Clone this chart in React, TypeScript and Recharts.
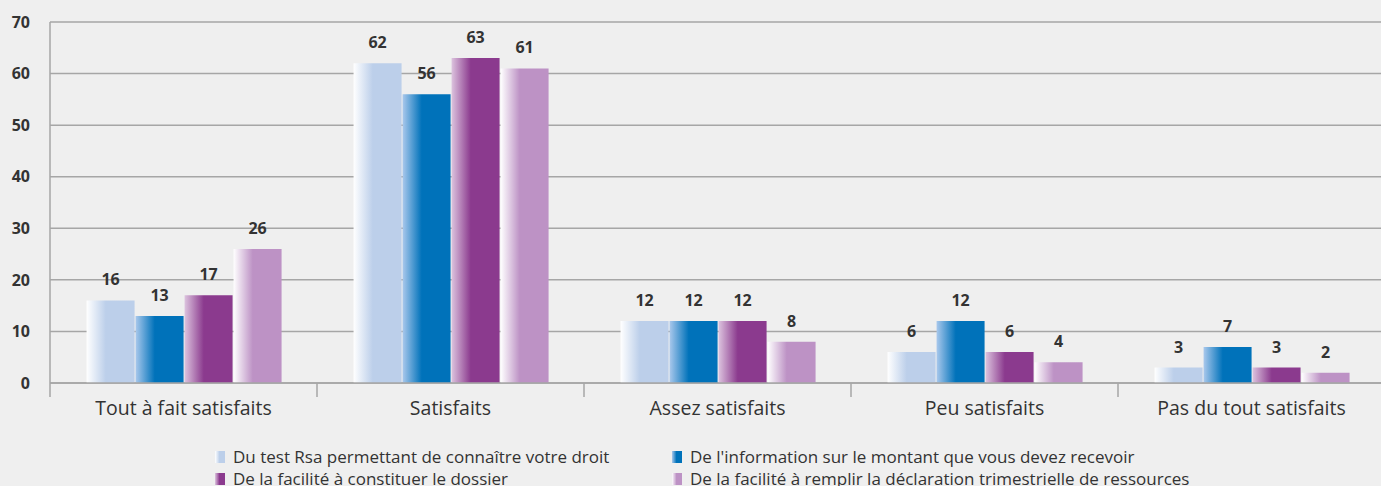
import React from "react"
import { Bar, BarChart, CartesianGrid, LabelList, XAxis, YAxis } from "recharts"

const categories = [
  "Tout à fait satisfaits",
  "Satisfaits",
  "Assez satisfaits",
  "Peu satisfaits",
  "Pas du tout satisfaits",
]

const testRsa = [16, 62, 12, 6, 3]
const information = [13, 56, 12, 12, 7]
const constituer = [17, 63, 12, 6, 3]
const declaration = [26, 61, 8, 4, 2]

const yTicks = [0, 10, 20, 30, 40, 50, 60, 70]

const series = [
  { key: "testRsa", name: "Du test Rsa permettant de connaître votre droit", color: "#bccfea", light: "#ffffff" },
  { key: "information", name: "De l'information sur le montant que vous devez recevoir", color: "#0072ba", light: "#a9c8ec" },
  { key: "constituer", name: "De la facilité à constituer le dossier", color: "#8b3a8e", light: "#dcc3de" },
  { key: "declaration", name: "De la facilité à remplir la déclaration trimestrielle de ressources", color: "#bd92c5", light: "#ffffff" },
]

const data = categories.map((c, i) => ({
  name: c,
  testRsa: testRsa[i],
  information: information[i],
  constituer: constituer[i],
  declaration: declaration[i],
}))

const FONT = "'Open Sans', Lato, sans-serif"
const TEXT = "#333333"
const GRID = "#a6a6a6"

function CategoryTick(props: any) {
  const { x, y, payload, bandSize } = props
  const half = (bandSize || 267) / 2
  return (
    <g>
      <line x1={x - half} y1={y - 8} x2={x - half} y2={y + 6} stroke={GRID} strokeWidth={1.5} />
      <text x={x} y={y + 24} textAnchor="middle" fill={TEXT} fontSize={19.5} fontFamily={FONT}>
        {payload.value}
      </text>
    </g>
  )
}

function LegendBox() {
  const cols = [215, 672]
  return (
    <div style={{ position: "absolute", left: 0, top: 445, width: 1381, height: 50, fontFamily: FONT, fontSize: 17, color: TEXT }}>
      {series.map((s, i) => (
        <div
          key={s.key}
          style={{
            position: "absolute",
            left: cols[i % 2],
            top: Math.floor(i / 2) * 22,
            display: "flex",
            alignItems: "center",
            whiteSpace: "nowrap",
          }}
        >
          <span
            style={{
              display: "inline-block",
              width: 10,
              height: 12,
              marginRight: 8,
              background: `linear-gradient(to right, ${s.light}, ${s.color} 45%, ${s.color})`,
            }}
          />
          {s.name}
        </div>
      ))}
    </div>
  )
}

export default function App() {
  return (
    <div style={{ position: "absolute", left: 0, top: 0, width: 1381, height: 486, overflow: "hidden", background: "#efefef" }}>
      <BarChart
        width={1385}
        height={486}
        data={data}
        margin={{ top: 22, right: 0, bottom: 63, left: 0 }}
        barCategoryGap="13.7%"
        barGap={1}
      >
        <defs>
          {series.map((s) => (
            <linearGradient key={s.key} id={`g-${s.key}`} x1="0" y1="0" x2="1" y2="0">
              <stop offset="0%" stopColor={s.light} />
              <stop offset="40%" stopColor={s.color} />
              <stop offset="100%" stopColor={s.color} />
            </linearGradient>
          ))}
        </defs>
        <CartesianGrid vertical={false} stroke={GRID} strokeWidth={1.5} />
        <XAxis
          dataKey="name"
          axisLine={{ stroke: GRID, strokeWidth: 1.5 }}
          tickLine={false}
          interval={0}
          height={40}
          tick={<CategoryTick bandSize={267} />}
        />
        <YAxis
          domain={[0, 70]}
          ticks={yTicks}
          width={50}
          axisLine={{ stroke: GRID, strokeWidth: 1.5 }}
          tickLine={false}
          tickMargin={14}
          tick={{ fill: TEXT, fontSize: 16, fontWeight: 700, fontFamily: FONT }}
        />
        {series.map((s) => (
          <Bar key={s.key} dataKey={s.key} name={s.name} fill={`url(#g-${s.key})`} isAnimationActive={false}>
            <LabelList
              dataKey={s.key}
              position="top"
              offset={15}
              fill={TEXT}
              fontSize={16}
              fontWeight={700}
              fontFamily={FONT}
            />
          </Bar>
        ))}
      </BarChart>
      <LegendBox />
    </div>
  )
}
